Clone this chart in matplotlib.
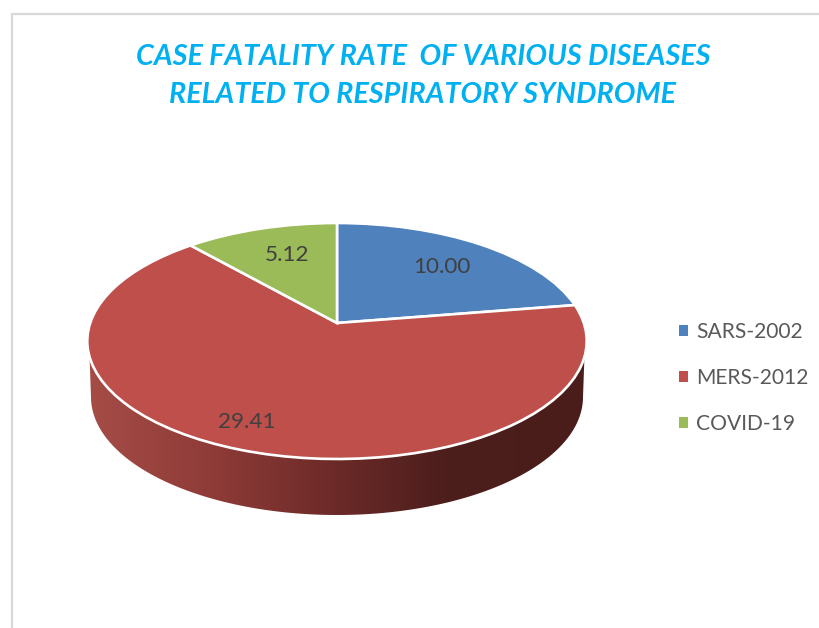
import numpy as np
import matplotlib
matplotlib.use("Agg")
import matplotlib.pyplot as plt
from matplotlib.transforms import Transform
from matplotlib.patches import Polygon
from matplotlib.colors import LinearSegmentedColormap

title = "CASE FATALITY RATE  OF VARIOUS DISEASES\nRELATED TO RESPIRATORY SYNDROME"
categories = ["SARS-2002", "MERS-2012", "COVID-19"]
values = [10.00, 29.41, 5.12]
value_labels = ["10.00", "29.41", "5.12"]
colors = ["#4F81BD", "#BE4F4B", "#9BBB59"]

plt.rcParams["font.family"] = ["Lato", "DejaVu Sans"]

CX, CY, RX, RY, K = 337.0, 323.0, 246.8, 115.25, 0.1525
DEPTH = 56.0


class Perspective(Transform):
    input_dims = output_dims = 2

    def transform_non_affine(self, pts):
        pts = np.asarray(pts, float)
        w = 1 + K * pts[:, 1]
        return np.column_stack([CX + RX * pts[:, 0] / w, CY - RY * pts[:, 1] / w])


fig = plt.figure(figsize=(8.2, 6.28), dpi=100, facecolor="white")
ax = fig.add_axes([0, 0, 1, 1])

wedges, _ = ax.pie(values, colors=colors, startangle=90, counterclock=False,
                   wedgeprops=dict(edgecolor="white", linewidth=1.9))
ax.set_aspect("auto")
ax.set_xlim(0, 820)
ax.set_ylim(628, 0)
ax.axis("off")

persp = Perspective() + ax.transData
for w in wedges:
    w.set_transform(persp)
    w.set_zorder(3)
    w.set_clip_on(False)

# Side wall of the disc
t = np.linspace(0, np.pi, 300)
ex, ey, erx, ery = CX, 341.0, 248.0, 118.0
low = np.column_stack([ex + (erx - 2) * np.cos(t), ey + DEPTH + ery * np.sin(t)])
wall_pts = np.vstack([[[ex + erx, ey]], low, [[ex - erx, ey]]])
wall = Polygon(wall_pts, closed=True, transform=ax.transData, facecolor="none", edgecolor="none")
ax.add_patch(wall)
cmap = LinearSegmentedColormap.from_list(
    "wall",
    [(0.0, "#A64C47"), (0.25, "#8E3B37"), (0.5, "#6B2A28"), (0.72, "#4C1E1C"), (1.0, "#4A1D1B")],
)
img = ax.imshow(np.linspace(0, 1, 512)[None, :], extent=[ex - erx, ex + erx, ey + DEPTH + ery, ey],
                cmap=cmap, aspect="auto", zorder=2, interpolation="bilinear")
img.set_clip_path(wall)
ax.set_xlim(0, 820)
ax.set_ylim(628, 0)

# Value labels
for txt, xy in zip(value_labels, [(442, 267), (247, 422), (287, 255)]):
    ax.text(xy[0], xy[1], txt, ha="center", va="center", fontsize=16.2, color="#404040", zorder=5)

# Chart frame
ax.plot([12, 12, 820], [628, 14, 14], color="#D9D9D9", lw=1.6, zorder=1, clip_on=False,
        solid_joinstyle="miter")

ax.text(423, 76, title, ha="center", va="center", fontsize=20.7, fontweight="bold", style="italic",
        color="#00B0F0", linespacing=1.6, zorder=5)

leg = ax.legend(wedges, categories, loc="center left", bbox_to_anchor=(673 / 820, 1 - 378 / 628),
                frameon=False, fontsize=15.1, labelcolor="#595959", handlelength=0.42, handleheight=0.42,
                handletextpad=0.38, labelspacing=1.24, borderaxespad=0, borderpad=0.3)
for h in leg.legend_handles:
    h.set_edgecolor("none")

fig.savefig("out.png", dpi=100, facecolor="white")
